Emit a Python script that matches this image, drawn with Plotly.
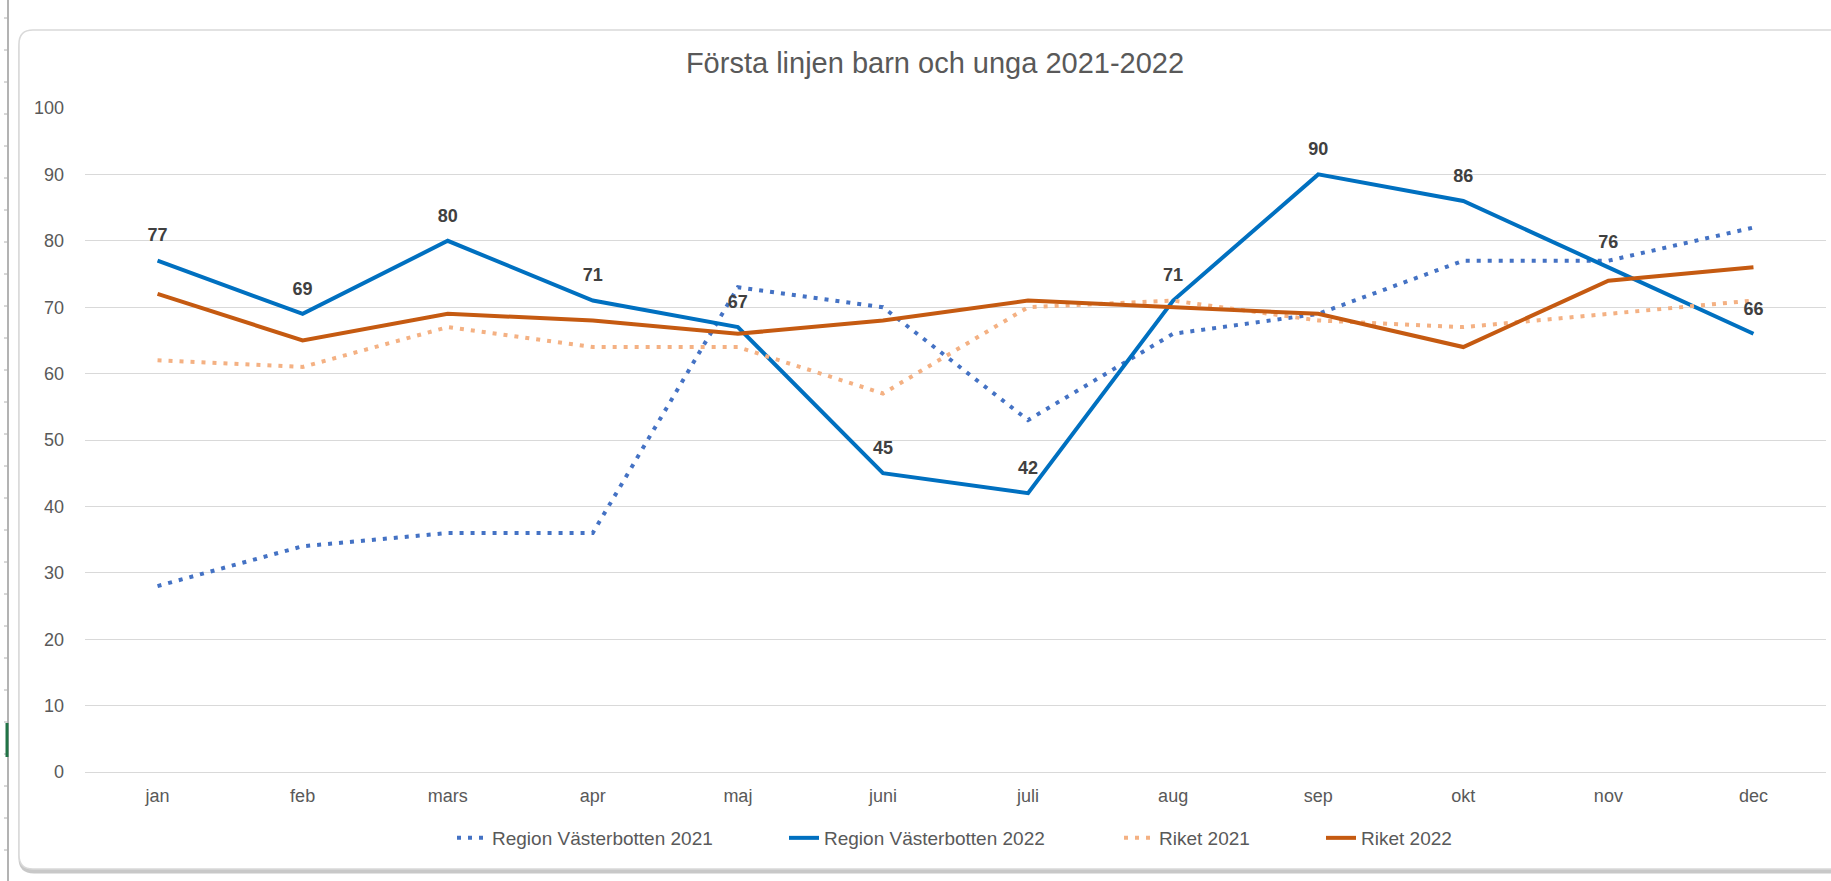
import plotly.graph_objects as go

# ---------------- data ----------------
months = ["jan", "feb", "mars", "apr", "maj", "juni", "juli", "aug", "sep", "okt", "nov", "dec"]
region_2021 = [28, 34, 36, 36, 73, 70, 53, 66, 69, 77, 77, 82]
region_2022 = [77, 69, 80, 71, 67, 45, 42, 71, 90, 86, 76, 66]
riket_2021 = [62, 61, 67, 64, 64, 57, 70, 71, 68, 67, 69, 71]
riket_2022 = [72, 65, 69, 68, 66, 68, 71, 70, 69, 64, 74, 76]
y_ticks = [0, 10, 20, 30, 40, 50, 60, 70, 80, 90, 100]
series_names = ["Region Västerbotten 2021", "Region Västerbotten 2022", "Riket 2021", "Riket 2022"]
title_text = "Första linjen barn och unga 2021-2022"

# ---------------- geometry (pixels) ----------------
W, H = 1831, 881
L, R = 85, 1826
T, B = 108, 772


def px(x):
    return (x - L) / (R - L)


def py(y):
    return (B - y) / (B - T)


FONT = "Liberation Sans, Arial, sans-serif"
GRAY = "#595959"

fig = go.Figure()

fig.add_trace(go.Scatter(
    x=months, y=region_2021, name=series_names[0], mode="lines",
    line=dict(color="#4472C4", width=4, dash="4px,7px"), legend="legend",
))
fig.add_trace(go.Scatter(
    x=months, y=region_2022, name=series_names[1], mode="lines",
    line=dict(color="#0070C0", width=4), legend="legend2",
))
fig.add_trace(go.Scatter(
    x=months, y=riket_2021, name=series_names[2], mode="lines",
    line=dict(color="#F4B183", width=4, dash="4px,7px"), legend="legend3",
))
fig.add_trace(go.Scatter(
    x=months, y=riket_2022, name=series_names[3], mode="lines",
    line=dict(color="#C55A11", width=4), legend="legend4",
))
# data labels for Region Västerbotten 2022
fig.add_trace(go.Scatter(
    x=months, y=region_2022, mode="markers+text", showlegend=False,
    marker=dict(size=22, color="rgba(0,0,0,0)"),
    text=[str(v) for v in region_2022], textposition="top center",
    textfont=dict(family=FONT, size=18, color="#404040", weight="bold"),
    hoverinfo="skip",
))

# ---------------- decorations ----------------
shapes = []
r = 14
cl, ct, cr, cb = 19, 30, 1860, 869


def card_path(dx=0, dy=0):
    return (f"M {px(cl+dx)},{py(ct+r+dy)} Q {px(cl+dx)},{py(ct+dy)} {px(cl+r+dx)},{py(ct+dy)} "
            f"L {px(cr+dx)},{py(ct+dy)} L {px(cr+dx)},{py(cb+dy)} L {px(cl+r+dx)},{py(cb+dy)} "
            f"Q {px(cl+dx)},{py(cb+dy)} {px(cl+dx)},{py(cb-r+dy)} Z")


shapes.append(dict(type="path", xref="paper", yref="paper", path=card_path(1, 3),
                   line=dict(color="#c8c8c8", width=3), fillcolor="#c8c8c8", layer="below"))
shapes.append(dict(type="path", xref="paper", yref="paper", path=card_path(),
                   line=dict(color="#d9d9d9", width=1.5), fillcolor="white", layer="below"))
# spreadsheet edge on the left
shapes.append(dict(type="line", xref="paper", yref="paper", x0=px(8), x1=px(8), y0=py(0), y1=py(881),
                   line=dict(color="#9a9a9a", width=1.5), layer="below"))
for k in range(28):
    yy = 18 + 32 * k
    shapes.append(dict(type="line", xref="paper", yref="paper", x0=px(4), x1=px(8), y0=py(yy), y1=py(yy),
                       line=dict(color="#b0b0b0", width=1), layer="below"))
shapes.append(dict(type="rect", xref="paper", yref="paper", x0=px(5.5), x1=px(8.5), y0=py(757), y1=py(723),
                   line=dict(width=0), fillcolor="#217346", layer="below"))

legend_common = dict(orientation="h", xanchor="left", yanchor="middle", bgcolor="rgba(0,0,0,0)",
                     font=dict(family=FONT, size=19, color=GRAY), itemwidth=30)
text_starts = [493, 825, 1160, 1362]
OFF = 41

fig.update_layout(
    width=W, height=H,
    margin=dict(l=L, r=W - R, t=T, b=H - B, pad=0),
    paper_bgcolor="white", plot_bgcolor="rgba(0,0,0,0)",
    title=dict(text=title_text, x=px(935), xref="paper", xanchor="center",
               y=1 - 63 / H, yanchor="middle",
               font=dict(family=FONT, size=29, color=GRAY)),
    xaxis=dict(type="category", range=[-0.5, 11.5], showgrid=False, showline=False, zeroline=False,
               ticks="", tickfont=dict(family=FONT, size=18, color=GRAY), ticklabelstandoff=11),
    yaxis=dict(range=[0, 100], tickvals=y_ticks, showgrid=True, gridcolor="#d9d9d9", gridwidth=1.3,
               zeroline=True, zerolinecolor="#d9d9d9", zerolinewidth=1.3, showline=False, ticks="",
               tickfont=dict(family=FONT, size=18, color=GRAY), ticklabelstandoff=20),
    legend=dict(x=px(text_starts[0] - OFF), y=py(838), **legend_common),
    legend2=dict(x=px(text_starts[1] - OFF), y=py(838), **legend_common),
    legend3=dict(x=px(text_starts[2] - OFF), y=py(838), **legend_common),
    legend4=dict(x=px(text_starts[3] - OFF), y=py(838), **legend_common),
    shapes=shapes,
    showlegend=True,
)

fig.write_html("out.html", config={"displayModeBar": False},
               post_script="document.body.style.margin='0';document.body.style.overflow='hidden';")
